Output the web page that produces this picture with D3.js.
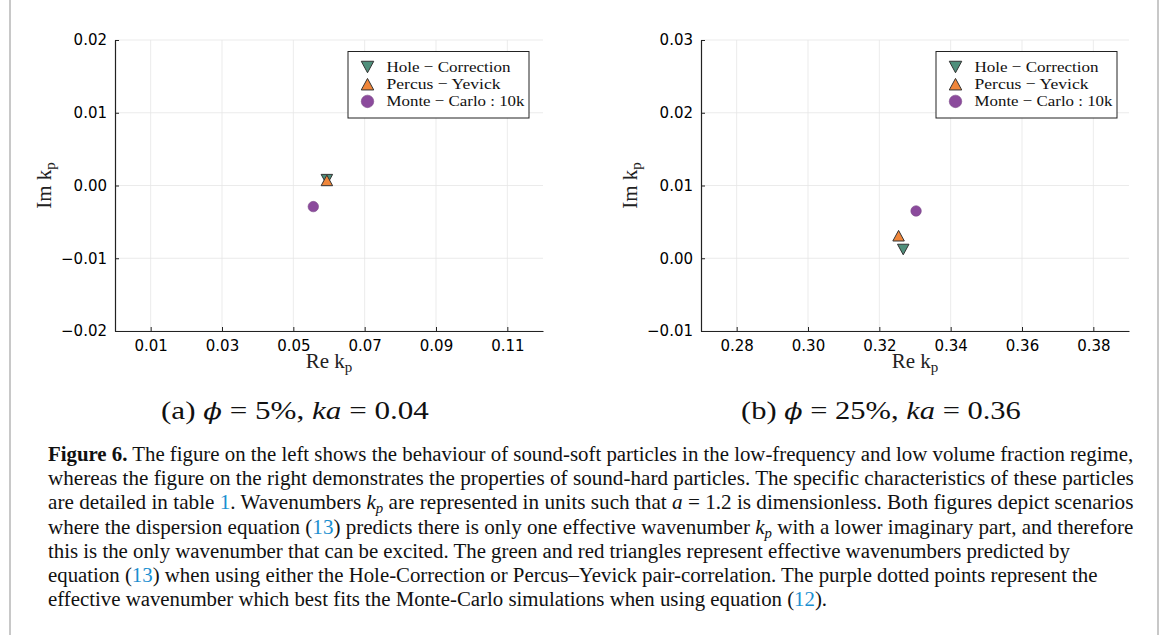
<!DOCTYPE html>
<html><head><meta charset="utf-8">
<script src="https://cdn.jsdelivr.net/npm/d3@7"></script>
<style>body{margin:0;background:#fff}</style>
</head><body><svg id="c" width="1167" height="635"></svg>
<script>
// ---------- data ----------
const seriesNames = ["Hole \u2212 Correction", "Percus \u2212 Yevick", "Monte \u2212 Carlo : 10k"];
const seriesColors = ["#4f8f7b", "#f0863a", "#8b4a9c"];
const seriesSymbols = ["dtriangle", "utriangle", "circle"];

const panelA_re = [0.0594, 0.0594, 0.0556];
const panelA_im = [0.0008, 0.0007, -0.0029];
const panelA_xDomain = [0.0, 0.12];
const panelA_yDomain = [-0.02, 0.02];
const panelA_xTicks = [0.01, 0.03, 0.05, 0.07, 0.09, 0.11];
const panelA_yTicks = [-0.02, -0.01, 0.00, 0.01, 0.02];

const panelB_re = [0.3267, 0.3254, 0.3303];
const panelB_im = [0.0012, 0.0031, 0.0065];
const panelB_xDomain = [0.27, 0.39];
const panelB_yDomain = [-0.01, 0.03];
const panelB_xTicks = [0.28, 0.30, 0.32, 0.34, 0.36, 0.38];
const panelB_yTicks = [-0.01, 0.00, 0.01, 0.02, 0.03];

const captionLines = [
  [["b","Figure 6."],["n"," The figure on the left shows the behaviour of sound-soft particles in the low-frequency and low volume fraction regime,"]],
  [["n","whereas the figure on the right demonstrates the properties of sound-hard particles. The specific characteristics of these particles"]],
  [["n","are detailed in table "],["l","1"],["n",". Wavenumbers "],["i","k"],["s","p"],["n"," are represented in units such that "],["i","a"],["n"," = 1.2 is dimensionless. Both figures depict scenarios"]],
  [["n","where the dispersion equation ("],["l","13"],["n",") predicts there is only one effective wavenumber "],["i","k"],["s","p"],["n"," with a lower imaginary part, and therefore"]],
  [["n","this is the only wavenumber that can be excited. The green and red triangles represent effective wavenumbers predicted by"]],
  [["n","equation ("],["l","13"],["n",") when using either the Hole-Correction or Percus\u2013Yevick pair-correlation. The purple dotted points represent the"]],
  [["n","effective wavenumber which best fits the Monte-Carlo simulations when using equation ("],["l","12"],["n",")."]]
];

// ---------- drawing ----------
const svg = d3.select("#c");
svg.append("rect").attr("width",1167).attr("height",635).attr("fill","#fff");
svg.append("line").attr("x1",10).attr("x2",10).attr("y1",0).attr("y2",635).attr("stroke","#c8c8c8").attr("stroke-width",2);
svg.append("line").attr("x1",1158).attr("x2",1158).attr("y1",0).attr("y2",635).attr("stroke","#c8c8c8").attr("stroke-width",2);

// markers centred on their bounding box (as in the original plotting library)
function markerPath(kind, s) {
  if (kind === "circle") return d3.symbol().type(d3.symbolCircle).size(Math.PI * s * s / 4)();
  const h = s * 0.92, w = s;
  if (kind === "utriangle") return `M0,${-h/2}L${w/2},${h/2}L${-w/2},${h/2}Z`;
  return `M0,${h/2}L${w/2},${-h/2}L${-w/2},${-h/2}Z`;
}
function styleMarker(sel, idx) {
  sel.attr("fill", d => seriesColors[idx(d)])
    .attr("stroke", d => seriesSymbols[idx(d)] === "circle" ? "#7a4a88" : "#333")
    .attr("stroke-width", d => seriesSymbols[idx(d)] === "circle" ? 0.6 : 1)
    .attr("stroke-linejoin", "miter");
}

function panel(box, re, im, xDom, yDom, xTicks, yTicks, legendX, subcap, subW) {
  const x = d3.scaleLinear().domain(xDom).range([box.l, box.r]);
  const y = d3.scaleLinear().domain(yDom).range([box.b, box.t]);
  const g = svg.append("g");
  // grid
  g.selectAll(".gx").data(xTicks).join("line")
    .attr("x1", d => x(d)).attr("x2", d => x(d)).attr("y1", box.t).attr("y2", box.b)
    .attr("stroke", "#e6e6e6").attr("stroke-width", 0.8);
  g.selectAll(".gy").data(yTicks).join("line")
    .attr("x1", box.l).attr("x2", box.r).attr("y1", d => y(d)).attr("y2", d => y(d))
    .attr("stroke", "#e6e6e6").attr("stroke-width", 0.8);
  // axes
  const xa = g.append("g").attr("transform", `translate(0,${box.b})`)
    .call(d3.axisBottom(x).tickValues(xTicks).tickFormat(d3.format(".2f")).tickSizeInner(-4).tickSizeOuter(0).tickPadding(9));
  const ya = g.append("g").attr("transform", `translate(${box.l},0)`)
    .call(d3.axisLeft(y).tickValues(yTicks).tickFormat(d3.format(".2f")).tickSizeInner(-4).tickSizeOuter(0).tickPadding(8));
  [xa, ya].forEach(a => {
    a.select(".domain").attr("stroke", "#222").attr("stroke-width", 1.2);
    a.selectAll(".tick line").attr("stroke", "#222");
    a.selectAll("text").attr("font-family", "DejaVu Sans").attr("font-size", 15).attr("fill", "#000");
  });
  // axis titles
  const xt = g.append("text").attr("x", (box.l + box.r) / 2).attr("y", 368)
    .attr("text-anchor", "middle").attr("font-family", "Liberation Serif").attr("font-size", 21).attr("fill", "#222");
  xt.append("tspan").text("Re k");
  xt.append("tspan").attr("dy", 4).attr("font-size", 15).text("p");
  const yt = g.append("text").attr("transform", `translate(${box.l - 64},${(box.t + box.b) / 2}) rotate(-90)`)
    .attr("text-anchor", "middle").attr("font-family", "Liberation Serif").attr("font-size", 21).attr("fill", "#222");
  yt.append("tspan").text("Im k");
  yt.append("tspan").attr("dy", 4).attr("font-size", 15).text("p");
  // points
  const pts = seriesNames.map((n, i) => ({ i, re: re[i], im: im[i] }));
  g.selectAll(".pt").data(pts).join("path")
    .attr("d", d => markerPath(seriesSymbols[d.i], seriesSymbols[d.i] === "circle" ? 10.5 : 11.5))
    .attr("transform", d => `translate(${x(d.re)},${y(d.im)})`)
    .call(styleMarker, d => d.i);
  // legend
  const lg = g.append("g").attr("transform", `translate(${legendX},51.5)`);
  lg.append("rect").attr("width", 181).attr("height", 66.5).attr("fill", "#fff").attr("stroke", "#222").attr("stroke-width", 1);
  const rows = lg.selectAll(".row").data(seriesNames).join("g")
    .attr("transform", (d, i) => `translate(0,${15.5 + i * 17.2})`);
  rows.append("path")
    .attr("d", (d, i) => markerPath(seriesSymbols[i], 12.5))
    .attr("transform", "translate(19.5,0)")
    .call(styleMarker, d => seriesNames.indexOf(d));
  const legW = [124, 114, 138];
  rows.append("text").attr("x", 38.5).attr("y", 5).text(d => d)
    .attr("textLength", (d, i) => legW[i]).attr("lengthAdjust", "spacingAndGlyphs")
    .attr("font-family", "Liberation Serif").attr("font-size", 15.5).attr("fill", "#111");
  // sub caption
  const cx = (box.l + box.r) / 2 - 34;
  const sc = svg.append("text").attr("y", 419)
    .attr("font-family", "Liberation Serif").attr("font-size", 25).attr("fill", "#111");
  sc.append("tspan").text(subcap[0] + " ");
  sc.append("tspan").attr("font-family", "DejaVu Serif").attr("font-style", "italic").attr("font-size", 22).text("\u03d5");
  sc.append("tspan").text(" = " + subcap[1] + ",  ");
  sc.append("tspan").attr("font-style", "italic").text("ka");
  sc.append("tspan").text(" = " + subcap[2]);
  const w0 = sc.node().getComputedTextLength();
  const sx = subW / w0;
  sc.attr("transform", `translate(${cx - subW / 2},0) scale(${sx},1)`);
}

panel({ l: 115, r: 543, t: 40, b: 331 }, panelA_re, panelA_im, panelA_xDomain, panelA_yDomain, panelA_xTicks, panelA_yTicks, 348, ["(a)", "5%", "0.04"], 268);
panel({ l: 701, r: 1129, t: 40, b: 331 }, panelB_re, panelB_im, panelB_xDomain, panelB_yDomain, panelB_xTicks, panelB_yTicks, 936, ["(b)", "25%", "0.36"], 280);

// caption
const cap = svg.append("g").attr("font-family", "Liberation Serif").attr("font-size", 20).attr("fill", "#111");
const capTexts = captionLines.map((parts, li) => {
  const t = cap.append("text").attr("x", 0).attr("y", 0);
  let prevSub = false;
  parts.forEach(([k, s]) => {
    const ts = t.append("tspan").text(s);
    if (k === "b") ts.attr("font-weight", "bold");
    if (k === "i") ts.attr("font-style", "italic");
    if (k === "l") ts.attr("fill", "#1a8fd0");
    if (k === "s") ts.attr("font-style", "italic").attr("font-size", 14).attr("dy", 4);
    else if (prevSub) ts.attr("dy", -4);
    prevSub = k === "s";
  });
  return t;
});
const fullW = 1086;
const s0 = fullW / capTexts[0].node().getComputedTextLength();
capTexts.forEach((t, li) => {
  const w = t.node().getComputedTextLength();
  const sx = li < 4 ? fullW / w : s0;
  t.attr("transform", `translate(48,${461 + li * 24.2}) scale(${sx},1)`);
});
</script></body></html>
